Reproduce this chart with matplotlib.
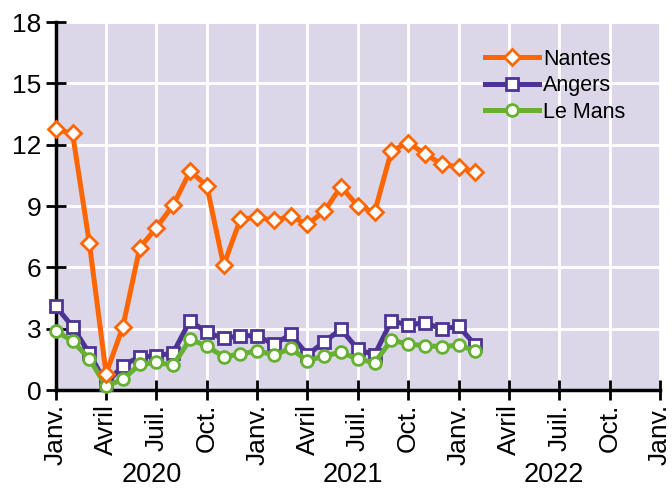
import matplotlib.pyplot as plt
import numpy as np

plt.rcParams['font.family'] = ['Liberation Sans', 'DejaVu Sans']

# monthly values, Jan 2020 -> Feb 2022
months = np.arange(26)
nantes = [12.75, 12.55, 7.2, 0.8, 3.1, 6.95, 7.95, 9.05, 10.7, 10.0, 6.1, 8.35,
          8.45, 8.3, 8.5, 8.1, 8.75, 9.95, 9.0, 8.7, 11.7, 12.1, 11.55, 11.05, 10.9, 10.65]
angers = [4.1, 3.1, 1.8, 0.3, 1.2, 1.63, 1.66, 1.83, 3.39, 2.82, 2.53, 2.66,
          2.66, 2.23, 2.72, 1.72, 2.36, 2.98, 1.99, 1.72, 3.39, 3.18, 3.3, 2.98, 3.12, 2.2]
le_mans = [2.88, 2.4, 1.52, 0.2, 0.52, 1.25, 1.35, 1.22, 2.48, 2.15, 1.63, 1.76,
           1.92, 1.71, 2.04, 1.42, 1.68, 1.84, 1.52, 1.34, 2.44, 2.25, 2.17, 2.12, 2.2, 1.91]

month_labels = ['Janv.', 'Avril', 'Juil.', 'Oct.'] * 4
month_labels = month_labels[:13]
years = ['2020', '2021', '2022']

fig = plt.figure(figsize=(6.72, 4.9), dpi=100)
ax = fig.add_axes([0.083, 0.204, 0.899, 0.751])
ax.set_facecolor('#dbd7e9')

ax.plot(months, nantes, color='#ff6600', lw=3.6, marker='D', ms=8.5,
        mfc='white', mec='#ff6600', mew=2, label='Nantes', zorder=4, clip_on=False)
ax.plot(months, angers, color='#4d3494', lw=3.6, marker='s', ms=8.5,
        mfc='white', mec='#4d3494', mew=2, label='Angers', zorder=3, clip_on=False)
ax.plot(months, le_mans, color='#66b032', lw=3.6, marker='o', ms=8.5,
        mfc='white', mec='#66b032', mew=2, label='Le Mans', zorder=3, clip_on=False)

ax.set_xlim(0, 36)
ax.set_ylim(0, 18)
ax.set_xticks(np.arange(0, 37, 3))
ax.set_xticklabels(month_labels, rotation=90, fontsize=19)
ax.set_yticks(np.arange(0, 19, 3))
ax.tick_params(axis='y', labelsize=19, direction='inout', length=14, width=2)
ax.tick_params(axis='x', direction='inout', length=14, width=2, pad=3)
ax.grid(True, color='white', lw=2)
ax.set_axisbelow(True)

for s in ['top', 'right']:
    ax.spines[s].set_visible(False)
for s in ['left', 'bottom']:
    ax.spines[s].set_linewidth(2.5)

for i, y in enumerate(years):
    ax.text(12 * i + 5.7, -0.232, y, transform=ax.get_xaxis_transform(),
            ha='center', va='center', fontsize=19.5)

ax.legend(loc='upper right', bbox_to_anchor=(0.975, 0.98), frameon=False,
          fontsize=15.5, handlelength=2.5, labelspacing=0.25, handletextpad=0.2)

plt.savefig('out.png', dpi=100)
